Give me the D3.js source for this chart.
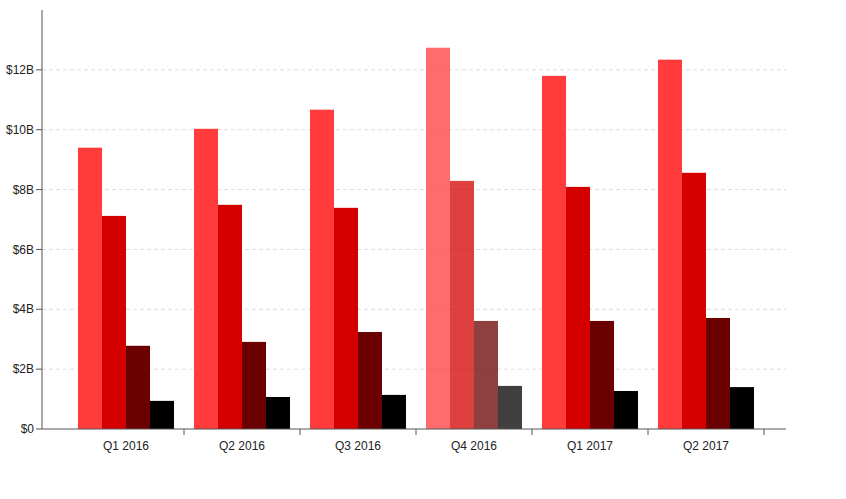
<!DOCTYPE html>
<html>
<head>
<meta charset="utf-8">
<script src="https://cdn.jsdelivr.net/npm/d3@7"></script>
<style>
  body { margin: 0; background: #fff; font-family: "Liberation Sans", Arial, sans-serif; }
</style>
</head>
<body>
<svg id="chart" width="846" height="499"></svg>
<script>
const quarters = ["Q1 2016", "Q2 2016", "Q3 2016", "Q4 2016", "Q1 2017", "Q2 2017"];
const seriesNames = ["a", "b", "c", "d"];
const seriesA = [9.40, 10.03, 10.67, 12.74, 11.80, 12.34];
const seriesB = [7.12, 7.49, 7.39, 8.29, 8.09, 8.56];
const seriesC = [2.78, 2.91, 3.24, 3.61, 3.61, 3.71];
const seriesD = [0.94, 1.07, 1.14, 1.44, 1.27, 1.40];
const colors = ["#ff3b3b", "#d40000", "#6b0000", "#000000"];
const yTicks = [0, 2, 4, 6, 8, 10, 12];
const highlighted = "Q4 2016";

const rows = quarters.map((q, i) => ({
  q, values: [seriesA[i], seriesB[i], seriesC[i], seriesD[i]]
}));

const svg = d3.select("#chart");
const axisLeft = 42, axisRight = 786, y0 = 429;

const x = d3.scaleBand().domain(quarters).range([68, 764]);
const x1 = d3.scaleBand().domain(seriesNames).range([10, x.bandwidth() - 10]);
const y = d3.scaleLinear().domain([0, 14]).range([y0, 10]);

// grid
svg.append("g").selectAll("line")
  .data(yTicks.slice(1))
  .join("line")
  .attr("x1", axisLeft).attr("x2", axisRight)
  .attr("y1", (d) => y(d)).attr("y2", (d) => y(d))
  .attr("stroke", "#ddd").attr("stroke-dasharray", "4,3");

// bars
const groups = svg.append("g").selectAll("g")
  .data(rows)
  .join("g")
  .attr("transform", (d) => `translate(${x(d.q)},0)`)
  .attr("opacity", (d) => (d.q === highlighted ? 0.75 : 1));

groups.selectAll("rect")
  .data((d) => d.values)
  .join("rect")
  .attr("x", (d, i) => x1(seriesNames[i]))
  .attr("width", x1.bandwidth())
  .attr("y", (d) => y(d))
  .attr("height", (d) => y0 - y(d))
  .attr("fill", (d, i) => colors[i]);

// y axis
svg.append("line")
  .attr("x1", axisLeft).attr("x2", axisLeft)
  .attr("y1", 10).attr("y2", y0)
  .attr("stroke", "#555");
svg.append("g").selectAll("line")
  .data(yTicks).join("line")
  .attr("x1", axisLeft - 6).attr("x2", axisLeft)
  .attr("y1", (d) => y(d)).attr("y2", (d) => y(d))
  .attr("stroke", "#555");
svg.append("g").selectAll("text")
  .data(yTicks).join("text")
  .attr("x", axisLeft - 8)
  .attr("y", (d) => y(d))
  .attr("dy", "0.35em")
  .attr("text-anchor", "end")
  .attr("font-size", 12)
  .attr("fill", "#222")
  .text((d) => (d === 0 ? "$0" : `$${d}B`));

// x axis
svg.append("line")
  .attr("x1", axisLeft).attr("x2", axisRight)
  .attr("y1", y0).attr("y2", y0)
  .attr("stroke", "#555");
svg.append("g").selectAll("line")
  .data(quarters).join("line")
  .attr("x1", (d) => x(d) + x.bandwidth()).attr("x2", (d) => x(d) + x.bandwidth())
  .attr("y1", y0).attr("y2", y0 + 6)
  .attr("stroke", "#555");
svg.append("g").selectAll("text")
  .data(quarters).join("text")
  .attr("x", (d) => x(d) + x.bandwidth() / 2)
  .attr("y", y0 + 21)
  .attr("text-anchor", "middle")
  .attr("font-size", 12)
  .attr("fill", "#222")
  .text((d) => d);
</script>
</body>
</html>
